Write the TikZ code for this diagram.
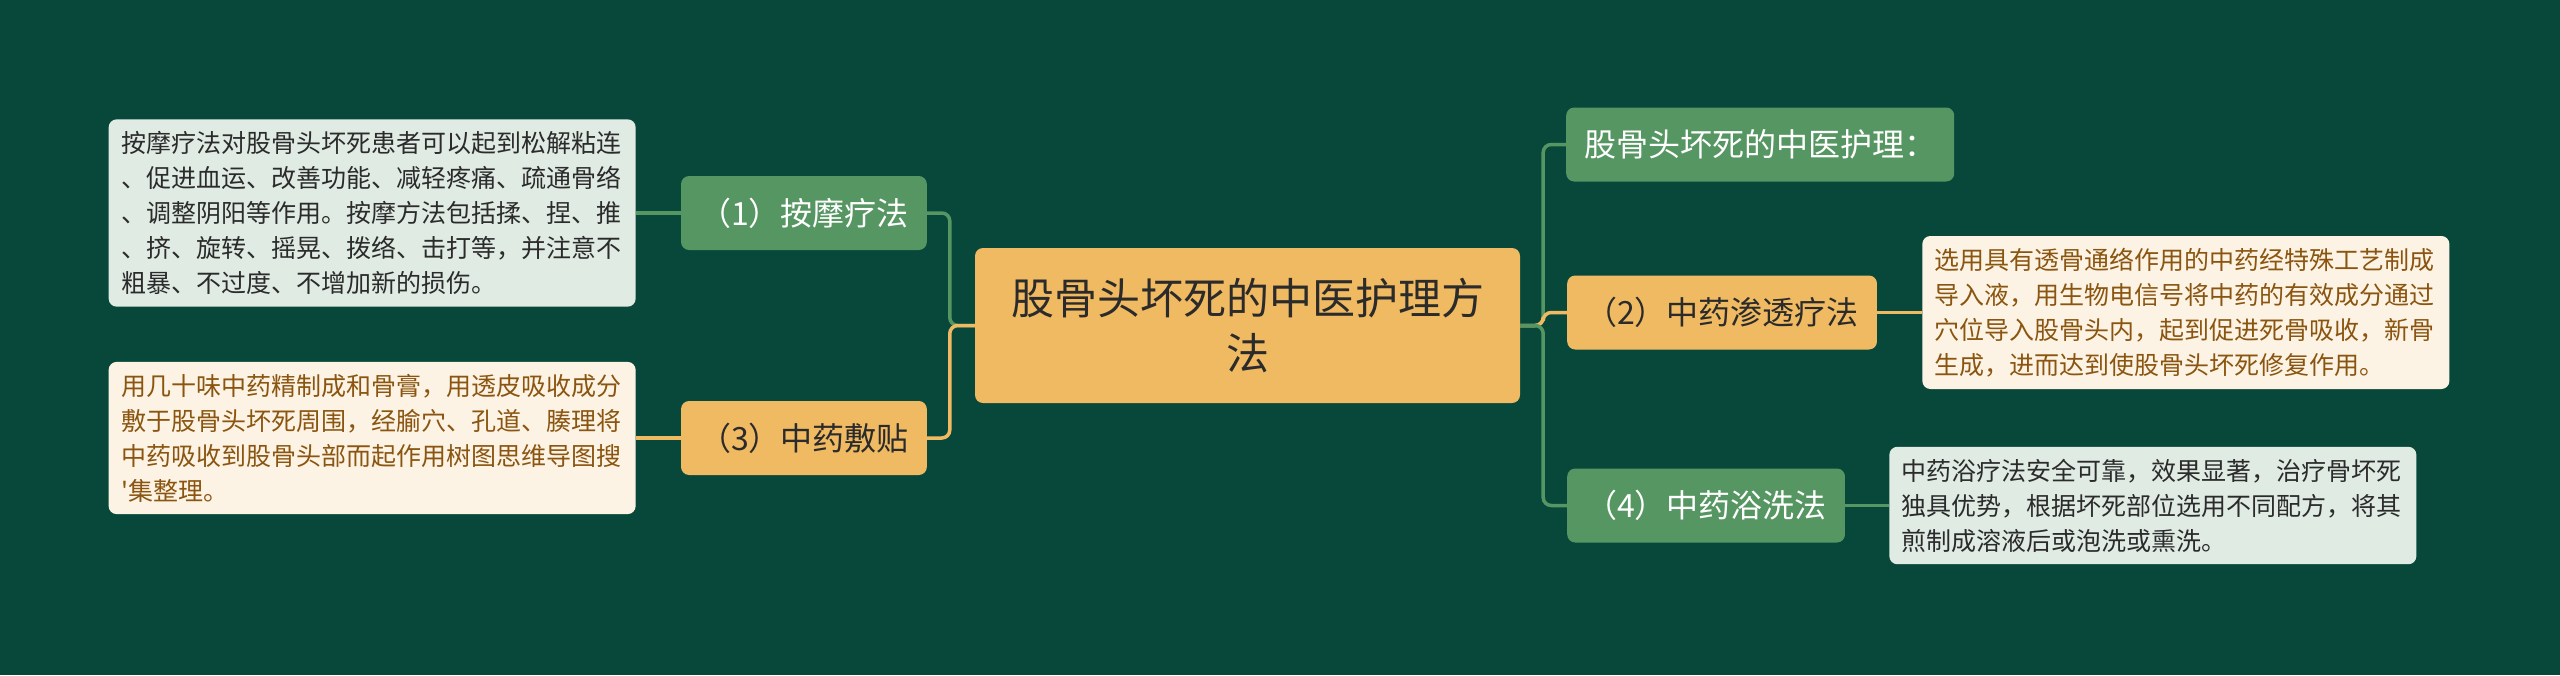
\documentclass[tikz,border=0pt]{standalone}
\usepackage{fontspec}
\setmainfont{Noto Sans CJK SC}
\newfontfamily\plaincjk{Noto Sans CJK SC}
\usetikzlibrary{positioning}
\definecolor{bgdark}{HTML}{07483A}
\definecolor{leafgreen}{HTML}{569662}
\definecolor{leaforange}{HTML}{F0BA62}
\definecolor{notegreen}{HTML}{E0EBE4}
\definecolor{notecream}{HTML}{FDF3E4}
\definecolor{notebrown}{HTML}{8A5510}
\definecolor{inkdark}{HTML}{2B2B2B}

\begin{document}
\begin{tikzpicture}[x=1pt,y=-1pt,
    node distance=45pt,
    root/.style={fill=leaforange,rounded corners=8pt,minimum width=545pt,minimum height=155pt,align=center,font=\fontsize{43}{55}\selectfont,text=inkdark},
    topic/.style={rounded corners=8pt,minimum height=74pt,inner xsep=18pt,font=\fontsize{32}{40}\selectfont},
    gtopic/.style={topic,fill=leafgreen,text=white},
    otopic/.style={topic,fill=leaforange,text=inkdark},
    note/.style={rounded corners=8pt,text width=502pt,inner xsep=12.5pt,inner ysep=12pt,align=left,font=\fontsize{25}{35}\selectfont},
    gnote/.style={note,fill=notegreen,text=inkdark},
    onote/.style={note,fill=notecream,text=notebrown},
    link/.style={line width=3.5pt,rounded corners=8pt}
]
\fill[bgdark] (0,0) rectangle (2560,675);

\node[root] (C) at (1247.5,325.5) {股骨头坏死的中医护理方\\法};

\node[gtopic,anchor=east] (L1) at (927,213) {（1）按摩疗法};
\node[otopic,anchor=east] (L3) at (927,438) {（3）中药敷贴};
\node[gtopic,anchor=west] (R0) at (1566,144.5) {股骨头坏死的中医护理：};
\node[otopic,anchor=west] (R2) at (1567,312.5) {（2）中药渗透疗法};
\node[gtopic,anchor=west] (R4) at (1567,505.5) {（4）中药浴洗法};

\node[gnote,left=of L1] (N1) {按摩疗法对股骨头坏死患者可以起到松解粘连\\、促进血运、改善功能、减轻疼痛、疏通骨络\\、调整阴阳等作用。按摩方法包括揉、捏、推\\、挤、旋转、摇晃、拨络、击打等，并注意不\\粗暴、不过度、不增加新的损伤。};
\node[onote,left=of L3] (N3) {用几十味中药精制成和骨膏，用透皮吸收成分\\敷于股骨头坏死周围，经腧穴、孔道、腠理将\\中药吸收到股骨头部而起作用树图思维导图搜\\{\plaincjk'}集整理。};
\node[onote,right=of R2] (N2) {选用具有透骨通络作用的中药经特殊工艺制成\\导入液，用生物电信号将中药的有效成分通过\\穴位导入股骨头内，起到促进死骨吸收，新骨\\生成，进而达到使股骨头坏死修复作用。};
\node[gnote,right=44pt of R4] (N4) {中药浴疗法安全可靠，效果显著，治疗骨坏死\\独具优势，根据坏死部位选用不同配方，将其\\煎制成溶液后或泡洗或熏洗。};

\draw[link,leafgreen] (C.west) -- ++(-25,0) |- (L1.east);
\draw[link,leaforange] (C.west) -- ++(-25,0) |- (L3.east);
\draw[link,leafgreen] (C.east) -- ++(23,0) |- (R0.west);
\draw[link,leaforange] (C.east) -- ++(23,0) |- (R2.west);
\draw[link,leafgreen] (C.east) -- ++(23,0) |- (R4.west);
\draw[link,leafgreen] (L1) -- (N1);
\draw[link,leaforange] (L3) -- (N3);
\draw[link,leaforange] (R2) -- (N2);
\draw[link,leafgreen] (R4) -- (N4);
\end{tikzpicture}
\end{document}
